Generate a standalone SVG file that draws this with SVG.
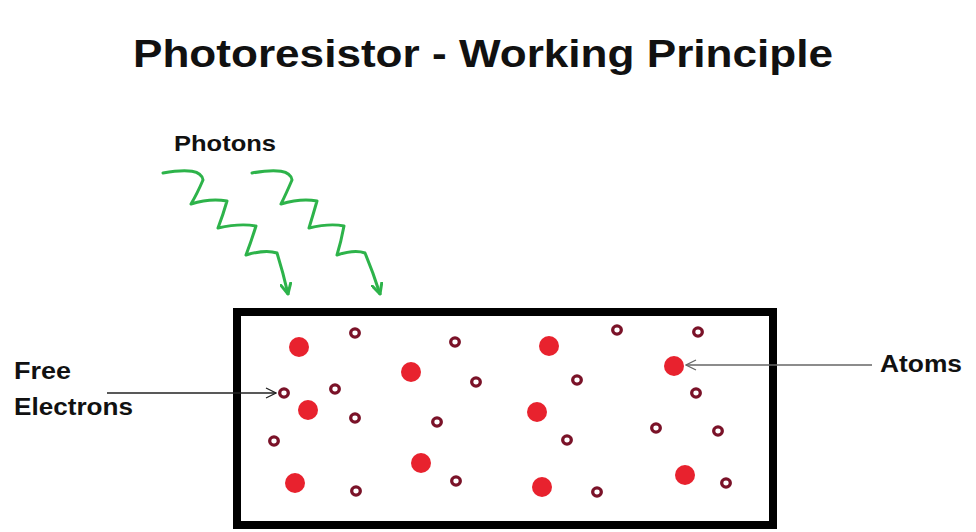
<svg xmlns="http://www.w3.org/2000/svg" width="976" height="532" viewBox="0 0 976 532">
<style>
.lbl{font-family:"Liberation Sans",Arial,sans-serif;font-weight:bold;fill:#111}
.atom{fill:#e8222e}
.el{fill:none;stroke:#7a1228;stroke-width:3.3}
.photon{fill:none;stroke:#2db34a;stroke-width:3;stroke-linecap:round;stroke-linejoin:round}
</style>
<defs>
<marker id="ga" viewBox="0 0 12 12" refX="11" refY="6" markerWidth="12" markerHeight="12" markerUnits="userSpaceOnUse" orient="auto">
<path d="M1,1 L11,6 L1,11" fill="none" stroke="#2db34a" stroke-width="3" stroke-linecap="round" stroke-linejoin="round"/>
</marker>
<marker id="ka" viewBox="0 0 12 12" refX="11" refY="6" markerWidth="12" markerHeight="12" markerUnits="userSpaceOnUse" orient="auto">
<path d="M1,1 L11,6 L1,11" fill="none" stroke="#222" stroke-width="1.3"/>
</marker>
<marker id="ya" viewBox="0 0 12 12" refX="11" refY="6" markerWidth="12" markerHeight="12" markerUnits="userSpaceOnUse" orient="auto">
<path d="M1,1 L11,6 L1,11" fill="none" stroke="#666" stroke-width="1.3"/>
</marker>
</defs>
<rect width="976" height="532" fill="#fff"/>
<text class="lbl" x="483" y="67" font-size="39" text-anchor="middle" textLength="700" lengthAdjust="spacingAndGlyphs">Photoresistor - Working Principle</text>
<g id="photons">
<text class="lbl" x="174" y="151" font-size="22" textLength="102" lengthAdjust="spacingAndGlyphs">Photons</text>
<path class="photon" marker-end="url(#ga)" d="M163,173 Q201,166 203,180 Q197,194 191,204 Q210,198 227,201 Q223,215 218,228 Q240,223 256,226 Q251,242 246,255 Q266,249 277,253 Q283,272 288,294"/>
<path class="photon" marker-end="url(#ga)" d="M252,173 Q290,166 292,180 Q286,194 281,204 Q301,198 317,201 Q313,215 309,228 Q330,223 344,226 Q341,242 337,255 Q355,249 365,253 Q373,272 380,294"/>
</g>
<g id="photoresistor">
<rect x="237" y="312" width="536" height="213" fill="none" stroke="#000" stroke-width="8"/>
</g>
<g id="atoms">
<circle class="atom" cx="299" cy="347" r="10"/>
<circle class="atom" cx="411" cy="372" r="10"/>
<circle class="atom" cx="549" cy="346" r="10"/>
<circle class="atom" cx="674" cy="366" r="10"/>
<circle class="atom" cx="308" cy="410" r="10"/>
<circle class="atom" cx="537" cy="412" r="10"/>
<circle class="atom" cx="421" cy="463" r="10"/>
<circle class="atom" cx="295" cy="483" r="10"/>
<circle class="atom" cx="542" cy="487" r="10"/>
<circle class="atom" cx="685" cy="475" r="10"/>
</g>
<g id="electrons">
<ellipse class="el" cx="355" cy="333" rx="4.3" ry="4.1"/>
<ellipse class="el" cx="455" cy="342" rx="4.3" ry="4.1"/>
<ellipse class="el" cx="617" cy="330" rx="4.3" ry="4.1"/>
<ellipse class="el" cx="698" cy="332" rx="4.3" ry="4.1"/>
<ellipse class="el" cx="335" cy="389" rx="4.3" ry="4.1"/>
<ellipse class="el" cx="476" cy="382" rx="4.3" ry="4.1"/>
<ellipse class="el" cx="577" cy="380" rx="4.3" ry="4.1"/>
<ellipse class="el" cx="696" cy="393" rx="4.3" ry="4.1"/>
<ellipse class="el" cx="284" cy="393" rx="4.3" ry="4.1"/>
<ellipse class="el" cx="355" cy="418" rx="4.3" ry="4.1"/>
<ellipse class="el" cx="437" cy="422" rx="4.3" ry="4.1"/>
<ellipse class="el" cx="567" cy="440" rx="4.3" ry="4.1"/>
<ellipse class="el" cx="656" cy="428" rx="4.3" ry="4.1"/>
<ellipse class="el" cx="718" cy="431" rx="4.3" ry="4.1"/>
<ellipse class="el" cx="274" cy="441" rx="4.3" ry="4.1"/>
<ellipse class="el" cx="456" cy="481" rx="4.3" ry="4.1"/>
<ellipse class="el" cx="356" cy="491" rx="4.3" ry="4.1"/>
<ellipse class="el" cx="597" cy="492" rx="4.3" ry="4.1"/>
<ellipse class="el" cx="726" cy="483" rx="4.3" ry="4.1"/>
</g>
<g id="free-electrons-label">
<text class="lbl" x="14" y="379" font-size="23" textLength="57" lengthAdjust="spacingAndGlyphs">Free</text>
<text class="lbl" x="14" y="415" font-size="23" textLength="119" lengthAdjust="spacingAndGlyphs">Electrons</text>
</g>
<g id="atoms-label">
<text class="lbl" x="880" y="372" font-size="23" textLength="82" lengthAdjust="spacingAndGlyphs">Atoms</text>
</g>
<g id="connectors">
<line x1="107" y1="393" x2="276" y2="393" stroke="#222" stroke-width="1.3" marker-end="url(#ka)"/>
<line x1="872" y1="365" x2="686" y2="365" stroke="#666" stroke-width="1.3" marker-end="url(#ya)"/>
</g>
</svg>
